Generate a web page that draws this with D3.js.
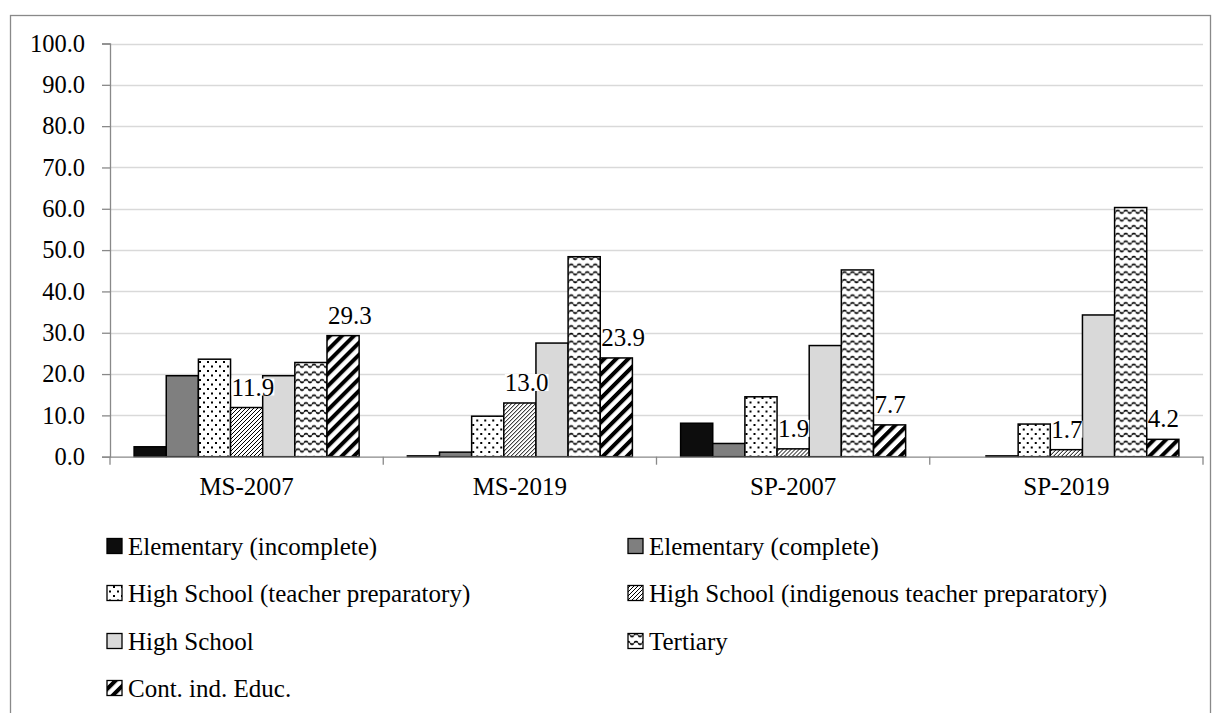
<!DOCTYPE html>
<html>
<head>
<meta charset="utf-8">
<script src="https://cdn.jsdelivr.net/npm/d3@7"></script>
<style>
  html, body { margin: 0; padding: 0; background: #fff; }
  svg { display: block; }
  svg text { font-family: 'Liberation Serif', 'DejaVu Serif', serif !important; fill: #000; }
</style>
</head>
<body>
<svg id="chart" width="1220" height="713"></svg>
<script>
// ---------- data ----------
const categories = ["MS-2007", "MS-2019", "SP-2007", "SP-2019"];
const seriesNames = [
  "Elementary (incomplete)",
  "Elementary (complete)",
  "High School (teacher preparatory)",
  "High School (indigenous teacher preparatory)",
  "High School",
  "Tertiary",
  "Cont. ind. Educ."
];
const elemIncomplete  = [2.4, 0.2, 8.1, 0.0];
const elemComplete    = [19.6, 1.1, 3.2, 0.2];
const hsTeacher       = [23.6, 9.8, 14.5, 7.9];
const hsIndigenous    = [11.9, 13.0, 1.9, 1.7];
const highSchool      = [19.6, 27.5, 26.9, 34.3];
const tertiary        = [22.8, 48.4, 45.2, 60.3];
const contIndEduc     = [29.3, 23.9, 7.7, 4.2];
const yTicks = [0, 10, 20, 30, 40, 50, 60, 70, 80, 90, 100];
// series that carry data labels
const labelledSeries = ["High School (indigenous teacher preparatory)", "Cont. ind. Educ."];

const seriesValues = [elemIncomplete, elemComplete, hsTeacher, hsIndigenous, highSchool, tertiary, contIndEduc];

// ---------- layout ----------
const FONT = "'Liberation Serif', 'DejaVu Serif', serif";
const FS = 25;
const svg = d3.select("#chart");
const plot = { left: 110, right: 1203, top: 43.5, bottom: 456.7 };

const x0 = d3.scaleBand().domain(categories).range([plot.left, plot.right]).padding(0);
const x1 = d3.scaleBand().domain(seriesNames).range([0, x0.bandwidth()]).paddingInner(0).paddingOuter(0.75);
const y = d3.scaleLinear().domain([0, 100]).range([plot.bottom, plot.top]);

// ---------- patterns ----------
const defs = svg.append("defs");

// dotted
const pDots = defs.append("pattern").attr("id", "pDots").attr("patternUnits", "userSpaceOnUse")
  .attr("width", 8).attr("height", 9);
pDots.append("rect").attr("width", 8).attr("height", 9).attr("fill", "#fff");
pDots.append("rect").attr("x", 1).attr("y", 1).attr("width", 2).attr("height", 2).attr("fill", "#000");
pDots.append("rect").attr("x", 5).attr("y", 5.5).attr("width", 2).attr("height", 2).attr("fill", "#000");

// light diagonal
const pLight = defs.append("pattern").attr("id", "pLight").attr("patternUnits", "userSpaceOnUse")
  .attr("width", 4).attr("height", 4);
pLight.append("rect").attr("width", 4).attr("height", 4).attr("fill", "#fff");
pLight.append("path").attr("d", "M-1,5 L5,-1 M-1,1 L1,-1 M3,5 L5,3").attr("stroke", "#000").attr("stroke-width", 1);

// zigzag
const pZig = defs.append("pattern").attr("id", "pZig").attr("patternUnits", "userSpaceOnUse")
  .attr("width", 8).attr("height", 7.7);
pZig.append("rect").attr("width", 8).attr("height", 7.7).attr("fill", "#fff");
pZig.append("path").attr("d", "M-4,1.8 L0,5.8 L4,1.8 L8,5.8 L12,1.8").attr("fill", "none").attr("stroke", "#000")
  .attr("stroke-width", 1.6).attr("stroke-dasharray", "2.2,0.7");

// wide diagonal
const pWide = defs.append("pattern").attr("id", "pWide").attr("patternUnits", "userSpaceOnUse")
  .attr("width", 8.5).attr("height", 8.5).attr("patternTransform", "rotate(45)");
pWide.append("rect").attr("width", 8.5).attr("height", 8.5).attr("fill", "#fff");
pWide.append("rect").attr("x", 0).attr("y", 0).attr("width", 4).attr("height", 8.5).attr("fill", "#000");

const fills = {
  "Elementary (incomplete)": "#0d0d0d",
  "Elementary (complete)": "#7f7f7f",
  "High School (teacher preparatory)": "url(#pDots)",
  "High School (indigenous teacher preparatory)": "url(#pLight)",
  "High School": "#d9d9d9",
  "Tertiary": "url(#pZig)",
  "Cont. ind. Educ.": "url(#pWide)"
};

// ---------- outer border ----------
svg.append("rect").attr("x", 10.5).attr("y", 15.5).attr("width", 1200).attr("height", 720)
  .attr("fill", "none").attr("stroke", "#898989").attr("stroke-width", 1.3);

// ---------- gridlines ----------
svg.append("g").selectAll("line").data(yTicks.filter(d => d > 0)).join("line")
  .attr("x1", plot.left).attr("x2", plot.right)
  .attr("y1", d => Math.round(y(d)) + 0.5).attr("y2", d => Math.round(y(d)) + 0.5)
  .attr("stroke", "#d9d9d9").attr("stroke-width", 1.3);

// ---------- y axis ----------
const yAxis = d3.axisLeft(y).tickValues(yTicks).tickFormat(d3.format(".1f")).tickSize(8).tickPadding(17);
const gy = svg.append("g").attr("transform", `translate(${plot.left},0)`).call(yAxis)
  .attr("font-family", FONT).attr("font-size", 24.5);
gy.select(".domain").attr("stroke", "#898989").attr("stroke-width", 1.3);
gy.selectAll(".tick line").attr("stroke", "#898989").attr("stroke-width", 1.3);
gy.selectAll(".tick text").attr("fill", "#000");

// ---------- bars ----------
const groups = svg.append("g").selectAll("g").data(categories).join("g")
  .attr("transform", d => `translate(${x0(d)},0)`);

groups.each(function(cat, ci) {
  const g = d3.select(this);
  seriesNames.forEach((s, si) => {
    const v = seriesValues[si][ci];
    if (v <= 0) return;
    g.append("rect")
      .attr("x", x1(s)).attr("width", x1.bandwidth())
      .attr("y", y(v)).attr("height", y(0) - y(v))
      .attr("fill", fills[s]).attr("stroke", "#000").attr("stroke-width", 1.5);
  });
});

// ---------- x axis ----------
const xAxis = d3.axisBottom(x0).tickSize(0).tickPadding(21);
const gx = svg.append("g").attr("transform", `translate(0,${plot.bottom})`).call(xAxis)
  .attr("font-family", FONT).attr("font-size", FS);
gx.select(".domain").attr("stroke", "#898989").attr("stroke-width", 1.3);
gx.selectAll(".tick text").attr("fill", "#000");
// category separator ticks
const sepPos = categories.map(c => x0(c)).concat([plot.right]);
gx.append("g").selectAll("line").data(sepPos).join("line")
  .attr("x1", d => d).attr("x2", d => d).attr("y1", 0).attr("y2", 8)
  .attr("stroke", "#898989").attr("stroke-width", 1.3);

// ---------- data labels ----------
const labelG = svg.append("g").attr("font-family", FONT);
categories.forEach((cat, ci) => {
  labelledSeries.forEach(s => {
    const si = seriesNames.indexOf(s);
    const v = seriesValues[si][ci];
    const lx = x0(cat) + x1(s) + 1;
    const t = labelG.append("text").attr("x", lx).attr("y", y(v) - 12)
      .attr("text-anchor", "start").attr("font-size", FS).text(d3.format(".1f")(v));
    const bb = t.node().getBBox();
    labelG.insert("rect", () => t.node())
      .attr("x", bb.x).attr("y", bb.y + 5).attr("width", bb.width).attr("height", bb.height - 10)
      .attr("fill", "#fff");
  });
});

// ---------- legend ----------
const legendCols = [107, 628];
const legendRows = [546, 593, 641, 688];
const lg = svg.append("g").attr("font-family", FONT);
seriesNames.forEach((s, i) => {
  const col = i % 2, row = Math.floor(i / 2);
  const lx = legendCols[col], ly = legendRows[row];
  lg.append("rect").attr("x", lx).attr("y", ly - 7.5).attr("width", 15).attr("height", 15)
    .attr("fill", fills[s]).attr("stroke", "#000").attr("stroke-width", 1.3);
  lg.append("text").attr("x", lx + 21).attr("y", ly).attr("dy", "0.35em")
    .attr("font-size", FS).text(s);
});
</script>
</body>
</html>
